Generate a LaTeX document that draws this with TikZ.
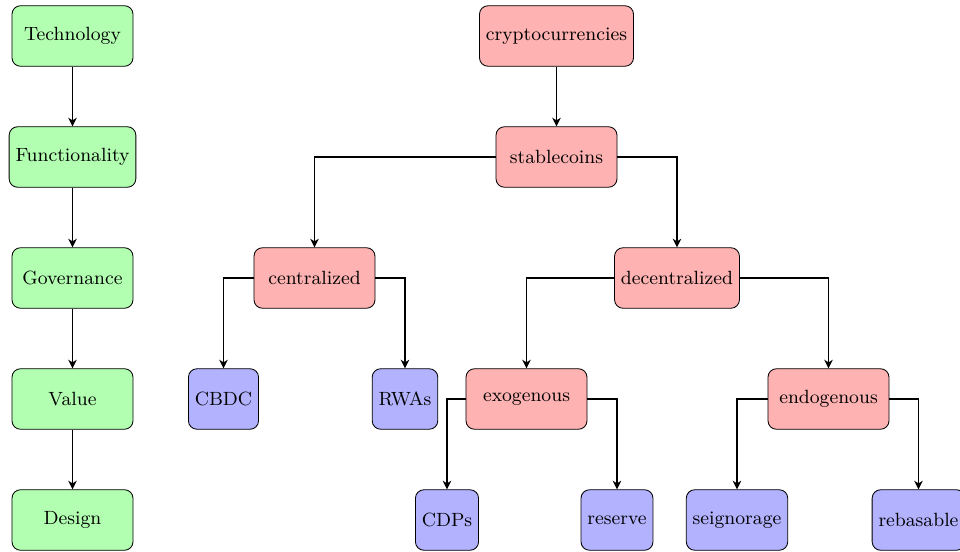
\documentclass[tikz,border=0pt]{standalone}
\usetikzlibrary{arrows.meta}
\begin{document}
\begin{tikzpicture}[x=0.016529cm,y=-0.016529cm,
  font=\fontsize{9}{11}\selectfont,
  box/.style={draw=black, rounded corners=4pt, minimum width=2cm, minimum height=1cm, inner sep=3pt},
  gbox/.style={box, fill=green!30},
  rbox/.style={box, fill=red!30},
  bbox/.style={box, fill=blue!30, minimum width=0pt},
  arr/.style={thick, -{Stealth[length=4pt,width=4pt,inset=1.2pt]}}]
\useasboundingbox (0,0) rectangle (960,552);
% left column
\node[gbox] (tech) at (72.5,36) {Technology};
\node[gbox] (func) at (72.5,157) {Functionality};
\node[gbox] (gov) at (72.5,278) {Governance};
\node[gbox] (val) at (72.5,399) {Value};
\node[gbox] (des) at (72.5,520) {Design};
\draw[arr] (tech) -- (func);
\draw[arr] (func) -- (gov);
\draw[arr] (gov) -- (val);
\draw[arr] (val) -- (des);
% tree
\node[rbox] (crypto) at (556.5,36) {cryptocurrencies};
\node[rbox] (stable) at (556.5,157) {stablecoins};
\node[rbox] (cent) at (314.5,278) {centralized};
\node[rbox] (dec) at (677,278) {decentralized};
\node[bbox] (cbdc) at (223.5,399) {CBDC};
\node[bbox] (rwa) at (405,399) {RWAs};
\node[rbox] (exo) at (526.5,399) {exogenous};
\node[rbox] (endo) at (828.5,399) {endogenous};
\node[bbox] (cdp) at (447,520) {CDPs};
\node[bbox] (res) at (617,520) {reserve};
\node[bbox] (sei) at (737,520) {seignorage};
\node[bbox] (reb) at (918.5,520) {rebasable};
\draw[arr] (crypto) -- (stable);
\draw[arr] (stable.west) -| (cent.north);
\draw[arr] (stable.east) -| (dec.north);
\draw[arr] (cent.west) -| (cbdc.north);
\draw[arr] (cent.east) -| (rwa.north);
\draw[arr] (dec.west) -| (exo.north);
\draw[arr] (dec.east) -| (endo.north);
\draw[arr] (exo.west) -| (cdp.north);
\draw[arr] (exo.east) -| (res.north);
\draw[arr] (endo.west) -| (sei.north);
\draw[arr] (endo.east) -| (reb.north);
\end{tikzpicture}
\end{document}
